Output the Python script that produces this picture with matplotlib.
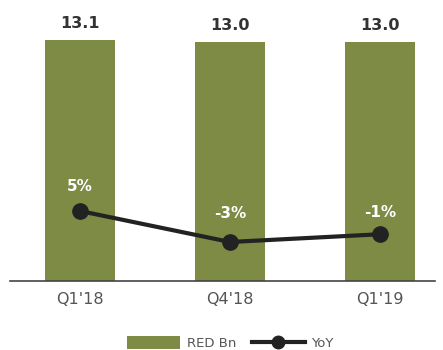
import matplotlib
matplotlib.use("Agg")
import matplotlib.pyplot as plt
from matplotlib.patches import Patch
from matplotlib.lines import Line2D

categories = ["Q1'18", "Q4'18", "Q1'19"]
red_bn = [13.1, 13.0, 13.0]
yoy = [5, -3, -1]
yoy_labels = ["5%", "-3%", "-1%"]

GREEN = "#7e8b45"
DARK = "#222222"
GRAY = "#555555"

fig = plt.figure(figsize=(4.43, 3.5), dpi=100)
W, H = 443, 350
ax = fig.add_axes([10 / W, 1 - 281 / H, 425 / W, 281 / H])
x = list(range(len(categories)))
ax.bar(x, red_bn, width=70 / 150, color=GREEN, zorder=2)
ax.set_xlim(1 - 220 / 150, 1 + 205 / 150)
ax.set_ylim(0, 13.1 * 281 / 241)
for xi, v in zip(x, red_bn):
    ax.text(xi, v + 0.5, f"{v:.1f}", ha="center", va="bottom", fontsize=11.5,
            fontweight="bold", color="#333333")
for s in ["top", "right", "left"]:
    ax.spines[s].set_visible(False)
ax.spines["bottom"].set_color("#444444")
ax.spines["bottom"].set_linewidth(1.2)
ax.set_yticks([])
ax.set_xticks(x)
ax.set_xticklabels(categories, fontsize=11.5, color=GRAY)
ax.tick_params(axis="x", length=0, pad=8)

ax2 = ax.twinx()
slope = 31 / 8
lo = -3 - 39 / slope
ax2.set_ylim(lo, lo + 281 / slope)
ax2.plot(x, yoy, color=DARK, lw=3, marker="o", markersize=11, zorder=3)
offs = [4.5, 5.5, 3.8]
for xi, v, lab, o in zip(x, yoy, yoy_labels, offs):
    ax2.text(xi, v + o, lab, ha="center", va="bottom", fontsize=11,
             color="white", fontweight="semibold")
ax2.set_yticks([])
for s in ax2.spines.values():
    s.set_visible(False)

handles = [Patch(facecolor=GREEN, edgecolor="none"),
           Line2D([0], [0], color=DARK, lw=3, marker="o", markersize=9)]
fig.legend(handles, ["RED Bn", "YoY"], loc="center", bbox_to_anchor=(0.52, 1 - 343 / H),
           ncol=2, frameon=False, fontsize=9.5, labelcolor=GRAY, handlelength=4.0,
           handleheight=1.1, columnspacing=1.2, handletextpad=0.5)

fig.savefig("out.png", dpi=100)
